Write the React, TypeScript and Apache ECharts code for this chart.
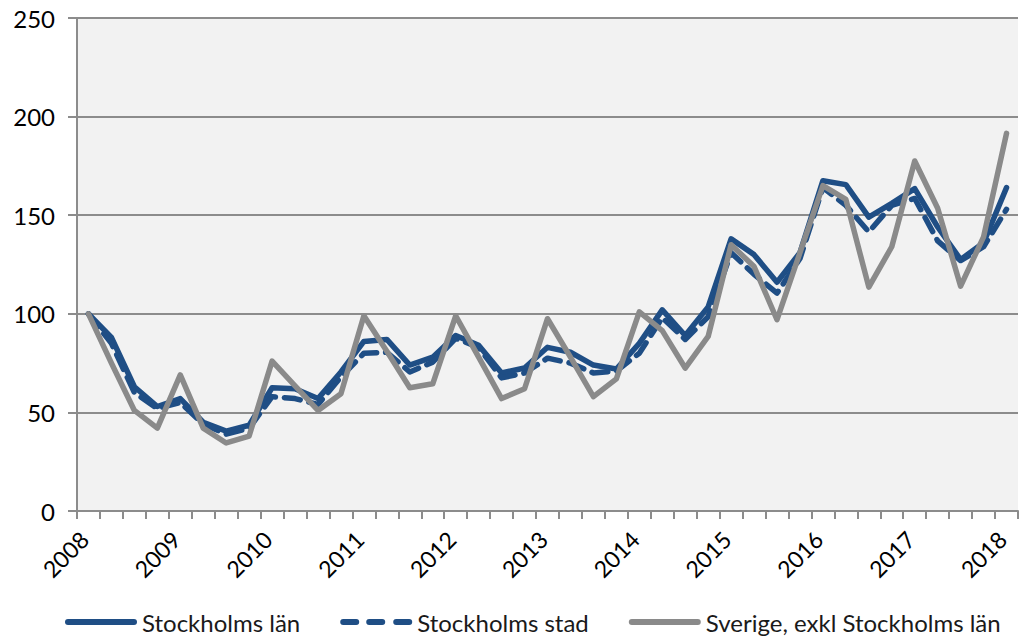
import React, { useEffect, useRef } from "react";
import * as echarts from "echarts";

const years = ["2008", "2009", "2010", "2011", "2012", "2013", "2014", "2015", "2016", "2017", "2018"];
const quarters = ["K1", "K2", "K3", "K4"];
const categories: string[] = [];
years.forEach((y, yi) => {
  quarters.forEach((q, qi) => {
    if (yi < years.length - 1 || qi === 0) categories.push(y + " " + q);
  });
});

const seriesNames = ["Stockholms län", "Stockholms stad", "Sverige, exkl Stockholms län"];

const stockholmsLan = [100, 88, 63, 53, 57, 45, 40.5, 43.5, 62.5, 62, 57, 70.5, 86, 87, 74, 78, 89, 84, 70, 72.5, 83, 80.5, 74, 72, 85, 102, 89, 103.5, 138, 130, 116, 131, 167.5, 165.5, 149, 156, 163.5, 144, 127.5, 136, 164];
const stockholmsStad = [100, 85, 60, 52, 55, 44, 39, 42, 58, 57, 54, 68, 80, 80.5, 70.5, 75.5, 87.5, 83, 67.5, 70, 77.5, 75, 70, 71, 80, 98, 87, 98.5, 131, 120, 110.5, 128, 164, 155, 141.5, 155, 158.5, 137, 127, 134, 153];
const sverige = [100, 75, 51, 42, 69, 42, 34.5, 38, 76, 63.5, 51, 59.5, 99, 81, 62.5, 64.5, 99, 78, 57, 62, 97.5, 78, 58, 67, 101, 91.5, 72.5, 88.5, 135, 124, 97, 131, 165, 158, 113.5, 134, 177.5, 153.5, 114, 139, 191.5];

const yTicks = { min: 0, max: 250, interval: 50 };

const BLUE = "#1f4e85";
const GRAY = "#8a8a8a";
const AXIS = "#8c8c8c";
const FONT = "Lato";

const SOLID_ICON = "path://M3,0h66a3,3 0 0 1 0,6h-66a3,3 0 0 1 0,-6z";
const DASH_ICON =
  "path://M3,0h13a3,3 0 0 1 0,6h-13a3,3 0 0 1 0,-6z M29,0h13a3,3 0 0 1 0,6h-13a3,3 0 0 1 0,-6z M56,0h13a3,3 0 0 1 0,6h-13a3,3 0 0 1 0,-6z";

export default function App() {
  const ref = useRef<HTMLDivElement>(null);
  useEffect(() => {
    if (!ref.current) return;
    const chart = echarts.init(ref.current, null, { renderer: "svg" });
    chart.setOption({
      animation: false,
      backgroundColor: "#ffffff",
      textStyle: { fontFamily: FONT },
      grid: {
        left: 77,
        right: 2,
        top: 18,
        bottom: 126,
        show: true,
        backgroundColor: "#f2f2f2",
        borderWidth: 0,
      },
      legend: {
        top: 605,
        left: 60,
        itemWidth: 72,
        itemHeight: 6,
        itemGap: 40,
        textStyle: { fontSize: 24, color: "#1a1a1a", fontFamily: FONT, padding: [0, 0, 0, 0] },
        data: [
          { name: seriesNames[0], icon: SOLID_ICON },
          { name: seriesNames[1], icon: DASH_ICON },
          { name: seriesNames[2], icon: SOLID_ICON },
        ],
      },
      xAxis: {
        type: "category",
        data: categories,
        boundaryGap: true,
        axisLine: { lineStyle: { color: AXIS, width: 2 } },
        axisTick: { show: true, interval: 0, length: 8, lineStyle: { color: AXIS, width: 2 } },
        axisLabel: {
          interval: 3,
          rotate: 45,
          margin: 20,
          padding: [0, 6, 0, 0],
          fontSize: 23,
          color: "#000000",
          fontFamily: FONT,
          formatter: (v: string) => v.slice(0, 4),
        },
        splitLine: { show: false },
      },
      yAxis: {
        type: "value",
        min: yTicks.min,
        max: yTicks.max,
        interval: yTicks.interval,
        axisLine: { show: true, lineStyle: { color: AXIS, width: 2 } },
        axisTick: { show: true, length: 9, lineStyle: { color: AXIS, width: 2 } },
        axisLabel: { fontSize: 24, color: "#000000", margin: 22, fontFamily: FONT },
        splitLine: { show: true, lineStyle: { color: AXIS, width: 2 } },
      },
      series: [
        {
          name: seriesNames[0],
          type: "line",
          data: stockholmsLan,
          symbol: "none",
          lineStyle: { color: BLUE, width: 5.5, cap: "round", join: "round" },
          itemStyle: { color: BLUE },
        },
        {
          name: seriesNames[1],
          type: "line",
          data: stockholmsStad,
          symbol: "none",
          lineStyle: { color: BLUE, width: 5.5, type: [16, 9], cap: "round", join: "round" },
          itemStyle: { color: BLUE },
        },
        {
          name: seriesNames[2],
          type: "line",
          data: sverige,
          symbol: "none",
          lineStyle: { color: GRAY, width: 5.5, cap: "round", join: "round" },
          itemStyle: { color: GRAY },
        },
      ],
    });
    return () => chart.dispose();
  }, []);
  return <div ref={ref} style={{ width: 1020, height: 637, position: "absolute", left: 0, top: 0 }} />;
}
